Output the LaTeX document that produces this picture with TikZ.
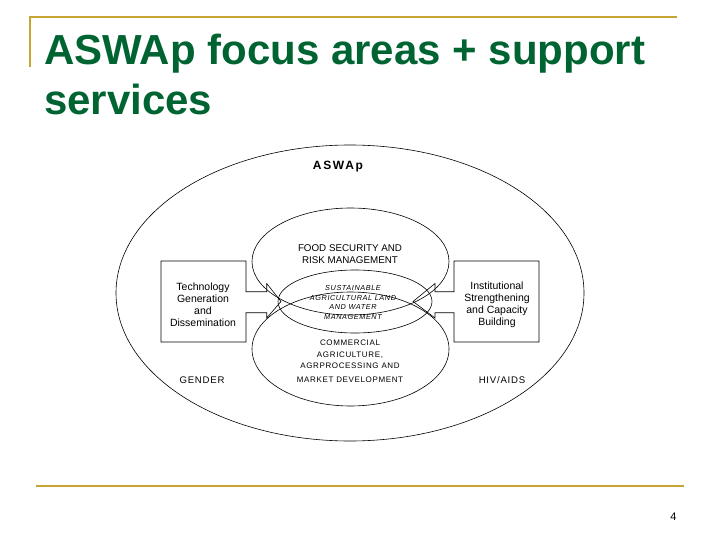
\documentclass[tikz,border=0pt]{standalone}
\usepackage{fontspec}
\setmainfont{Liberation Sans}
\newfontfamily\spacedfont[LetterSpace=8]{Liberation Sans}
\newfontfamily\widefont[LetterSpace=14]{Liberation Sans}
\definecolor{titlegreen}{RGB}{0,100,50}
\definecolor{rulegold}{RGB}{200,165,50}
\begin{document}
\begin{tikzpicture}[x=1pt,y=-1pt,
  shapeline/.style={draw=black,line width=0.6pt},
  rulebar/.style={draw=rulegold,line width=2.5pt},
  lbl/.style={inner sep=0pt,align=center,text=black}]
\useasboundingbox (0,0) rectangle (720,540);
\fill[white] (0,0) rectangle (720,540);
% title frame
\draw[rulegold,line width=2pt] (30,66.7) -- (30,17.3) -- (677,17.3);
\draw[rulebar] (36,486) -- (684,486);
\node[anchor=base west,inner sep=0pt,text=titlegreen,font=\fontsize{42}{48}\selectfont\bfseries] (t1) at (44,65) {ASWAp focus areas + support};
\node[anchor=base west,inner sep=0pt,text=titlegreen,font=\fontsize{42}{48}\selectfont\bfseries] (t2) at (44,114.3) {services};
\node[anchor=base,inner sep=0pt,font=\fontsize{11}{13}\selectfont] (pg) at (673.5,520.5) {4};
% ellipses
\draw[shapeline] (350,293) ellipse [x radius=234pt, y radius=148pt];
\draw[shapeline] (350.5,261.5) ellipse [x radius=98.5pt, y radius=53.5pt];
\draw[shapeline] (350.5,349) ellipse [x radius=98.5pt, y radius=57pt];
\draw[shapeline] (355,301.5) ellipse [x radius=77pt, y radius=31.5pt];
% callout boxes
\draw[shapeline] (161,261) -- (246,261) -- (246,291.7) -- (266.7,291.7) -- (266.7,283.5) -- (281,301.5) -- (266.7,318) -- (266.7,312.7) -- (246,312.7) -- (246,342) -- (161,342) -- cycle;
\draw[shapeline] (539,261) -- (454,261) -- (454,291.7) -- (435,291.7) -- (435,283.5) -- (413,301.5) -- (435,318) -- (435,312.7) -- (454,312.7) -- (454,342) -- (539,342) -- cycle;
% labels
\node[lbl,font=\fontsize{12}{14}\selectfont\widefont\bfseries] (aswap) at (338,166.5) {ASWAp};
\node[lbl,font=\fontsize{9.8}{12}\selectfont] (food) at (350,254) {FOOD SECURITY AND\\RISK MANAGEMENT};
\node[lbl,font=\fontsize{7.3}{9.6}\selectfont\itshape\spacedfont\itshape] (sust) at (353,302.3) {SUSTAINABLE\\AGRICULTURAL LAND\\AND WATER\\MANAGEMENT};
\node[lbl,font=\fontsize{8}{11.3}\selectfont\spacedfont] (comm) at (350,361.5) {COMMERCIAL\\AGRICULTURE,\\AGRPROCESSING AND\\[3pt]MARKET DEVELOPMENT};
\node[lbl,font=\fontsize{10.5}{12}\selectfont] (tech) at (203,304.7) {Technology\\Generation\\and\\Dissemination};
\node[lbl,font=\fontsize{10.5}{12}\selectfont] (inst) at (497,304.7) {Institutional\\Strengthening\\and Capacity\\Building};
\node[lbl,font=\fontsize{9.6}{12}\selectfont\spacedfont] (gender) at (202,380) {GENDER};
\node[lbl,font=\fontsize{9.6}{12}\selectfont\spacedfont] (hiv) at (502,380) {HIV/AIDS};
\end{tikzpicture}
\end{document}
